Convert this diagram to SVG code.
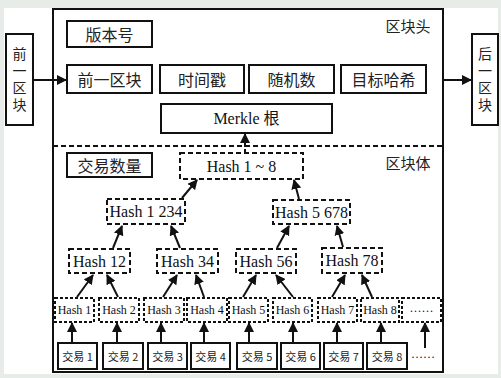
<svg xmlns="http://www.w3.org/2000/svg" width="501" height="378" viewBox="0 0 501 378">
<defs>
<style>
.t{font-family:"Liberation Serif","Noto Sans CJK SC",serif;fill:#111;text-anchor:middle;dominant-baseline:central}
.cn{font-family:"Noto Sans CJK SC","Liberation Serif",sans-serif;fill:#222;text-anchor:middle;dominant-baseline:central}
.vt{font-family:"Noto Sans CJK SC",sans-serif;fill:#222;text-anchor:middle;writing-mode:vertical-rl;letter-spacing:3px;font-size:14px}
.solid{fill:#fff;stroke:#111;stroke-width:2}
.dash{fill:#fff;stroke:#111;stroke-width:2;stroke-dasharray:5 3}
.dot{fill:#fff;stroke:#111;stroke-width:2;stroke-dasharray:3 2}
.ar{stroke:#111;stroke-width:2;fill:none;marker-end:url(#ah)}
</style>
<marker id="ah" viewBox="0 0 10 10" refX="9" refY="5" markerWidth="5" markerHeight="5" orient="auto" markerUnits="strokeWidth">
<path d="M0,0 L10,5 L0,10 z" fill="#111"/>
</marker>
</defs>
<rect x="0" y="0" width="501" height="378" fill="#e8ece9"/>
<rect x="4" y="8" width="494" height="366" fill="#fff"/>
<rect x="53" y="9" width="390" height="363" fill="#fff" stroke="#111" stroke-width="2"/>
<line x1="53" y1="146" x2="443" y2="146" stroke="#111" stroke-width="2" stroke-dasharray="5 3"/>
<text class="cn" x="408" y="25" font-size="15">区块头</text>
<text class="cn" x="408" y="162" font-size="15">区块体</text>

<g id="prev-block"><rect class="solid" x="6" y="34" width="27" height="91"/>
<text class="vt" x="19.5" y="81">前一区块</text></g>
<g id="next-block"><rect class="solid" x="472" y="34" width="26" height="91"/>
<text class="vt" x="485" y="81">后一区块</text></g>

<g id="version"><rect class="solid" x="67" y="21" width="85" height="26"/><text class="cn" x="109.5" y="34" font-size="16">版本号</text></g>
<g id="prevhash"><rect class="solid" x="67" y="65" width="85" height="28"/><text class="cn" x="109.5" y="79" font-size="16">前一区块</text></g>
<g id="timestamp"><rect class="solid" x="160" y="65" width="84" height="28"/><text class="cn" x="202" y="79" font-size="16">时间戳</text></g>
<g id="nonce"><rect class="solid" x="249" y="65" width="85" height="28"/><text class="cn" x="291.5" y="79" font-size="16">随机数</text></g>
<g id="target"><rect class="solid" x="341" y="65" width="85" height="28"/><text class="cn" x="383.5" y="79" font-size="16">目标哈希</text></g>
<g id="merkle"><rect class="solid" x="161" y="104" width="171" height="29"/><text class="t" x="246.5" y="118.5" font-size="16">Merkle 根</text></g>
<g id="txcount"><rect class="solid" x="67" y="153" width="85" height="24"/><text class="cn" x="109.5" y="165" font-size="16">交易数量</text></g>

<g id="h18"><rect class="dash" x="180" y="153" width="123" height="26"/><text class="t" x="241.5" y="166" font-size="16">Hash 1 ~ 8</text></g>
<g id="h1234"><rect class="dash" x="107" y="199" width="78" height="25"/><text class="t" x="146" y="211.5" font-size="16">Hash 1 234</text></g>
<g id="h5678"><rect class="dash" x="273" y="200" width="77" height="24"/><text class="t" x="311.5" y="212" font-size="16">Hash 5 678</text></g>
<g id="h12"><rect class="dash" x="69" y="249" width="61" height="24"/><text class="t" x="99.5" y="261" font-size="16">Hash 12</text></g>
<g id="h34"><rect class="dash" x="157" y="249" width="61" height="24"/><text class="t" x="187.5" y="261" font-size="16">Hash 34</text></g>
<g id="h56"><rect class="dash" x="236" y="249" width="60" height="24"/><text class="t" x="266" y="261" font-size="16">Hash 56</text></g>
<g id="h78"><rect class="dash" x="322" y="248" width="60" height="25"/><text class="t" x="352" y="260.5" font-size="16">Hash 78</text></g>

<g id="hash1"><rect class="dot" x="55" y="298" width="39" height="24"/><text class="t" x="74.5" y="310" font-size="12">Hash 1</text></g>
<g id="hash2"><rect class="dot" x="99" y="298" width="40" height="24"/><text class="t" x="119" y="310" font-size="12">Hash 2</text></g>
<g id="hash3"><rect class="dot" x="144" y="298" width="40" height="24"/><text class="t" x="164" y="310" font-size="12">Hash 3</text></g>
<g id="hash4"><rect class="dot" x="187" y="298" width="40" height="24"/><text class="t" x="207" y="310" font-size="12">Hash 4</text></g>
<g id="hash5"><rect class="dot" x="229" y="298" width="39" height="24"/><text class="t" x="248.5" y="310" font-size="12">Hash 5</text></g>
<g id="hash6"><rect class="dot" x="273" y="298" width="39" height="24"/><text class="t" x="292.5" y="310" font-size="12">Hash 6</text></g>
<g id="hash7"><rect class="dot" x="318" y="298" width="39" height="24"/><text class="t" x="337.5" y="310" font-size="12">Hash 7</text></g>
<g id="hash8"><rect class="dot" x="361" y="298" width="38" height="24"/><text class="t" x="380" y="310" font-size="12">Hash 8</text></g>
<g id="hash-more"><rect class="dot" x="402" y="298" width="39" height="24"/><text class="t" x="421.5" y="308" font-size="12">……</text></g>

<g id="tx1"><rect class="solid" x="58" y="343" width="39" height="26"/><text class="cn" x="77.5" y="356" font-size="11">交易 1</text></g>
<g id="tx2"><rect class="solid" x="103" y="343" width="40" height="26"/><text class="cn" x="123" y="356" font-size="11">交易 2</text></g>
<g id="tx3"><rect class="solid" x="148" y="343" width="39" height="26"/><text class="cn" x="167.5" y="356" font-size="11">交易 3</text></g>
<g id="tx4"><rect class="solid" x="191" y="343" width="39" height="26"/><text class="cn" x="210.5" y="356" font-size="11">交易 4</text></g>
<g id="tx5"><rect class="solid" x="237" y="343" width="40" height="26"/><text class="cn" x="257" y="356" font-size="11">交易 5</text></g>
<g id="tx6"><rect class="solid" x="281" y="343" width="39" height="26"/><text class="cn" x="300.5" y="356" font-size="11">交易 6</text></g>
<g id="tx7"><rect class="solid" x="324" y="343" width="39" height="26"/><text class="cn" x="343.5" y="356" font-size="11">交易 7</text></g>
<g id="tx8"><rect class="solid" x="367" y="343" width="40" height="26"/><text class="cn" x="387" y="356" font-size="11">交易 8</text></g>
<g id="tx-more"><text class="t" x="423" y="354" font-size="12">……</text></g>

<g id="connectors">
<line class="ar" x1="33" y1="80" x2="66" y2="80"/>
<line class="ar" x1="443" y1="80" x2="471" y2="80"/>
<line class="ar" x1="245" y1="153" x2="245" y2="134" stroke-dasharray="4 2"/>
<line class="ar" x1="182" y1="198" x2="197" y2="180"/>
<line class="ar" x1="299" y1="199" x2="294" y2="180"/>
<line class="ar" x1="113" y1="248" x2="122" y2="226"/>
<line class="ar" x1="180" y1="248" x2="171" y2="226"/>
<line class="ar" x1="277" y1="248" x2="289" y2="226"/>
<line class="ar" x1="343" y1="247" x2="337" y2="226"/>
<line class="ar" x1="77" y1="297" x2="93" y2="275"/>
<line class="ar" x1="118" y1="297" x2="107" y2="275"/>
<line class="ar" x1="163" y1="297" x2="177" y2="275"/>
<line class="ar" x1="204" y1="297" x2="196" y2="275"/>
<line class="ar" x1="243" y1="297" x2="256" y2="275"/>
<line class="ar" x1="293" y1="297" x2="276" y2="275"/>
<line class="ar" x1="332" y1="297" x2="345" y2="275"/>
<line class="ar" x1="372" y1="297" x2="362" y2="275"/>
<line class="ar" x1="72" y1="343" x2="72" y2="323"/>
<line class="ar" x1="117" y1="343" x2="117" y2="323"/>
<line class="ar" x1="161" y1="343" x2="161" y2="323"/>
<line class="ar" x1="204" y1="343" x2="204" y2="323"/>
<line class="ar" x1="249" y1="343" x2="249" y2="323"/>
<line class="ar" x1="293" y1="343" x2="293" y2="323"/>
<line class="ar" x1="337" y1="343" x2="337" y2="323"/>
<line class="ar" x1="381" y1="343" x2="381" y2="323"/>
<line class="ar" x1="425" y1="348" x2="425" y2="323"/>
</g>
</svg>
